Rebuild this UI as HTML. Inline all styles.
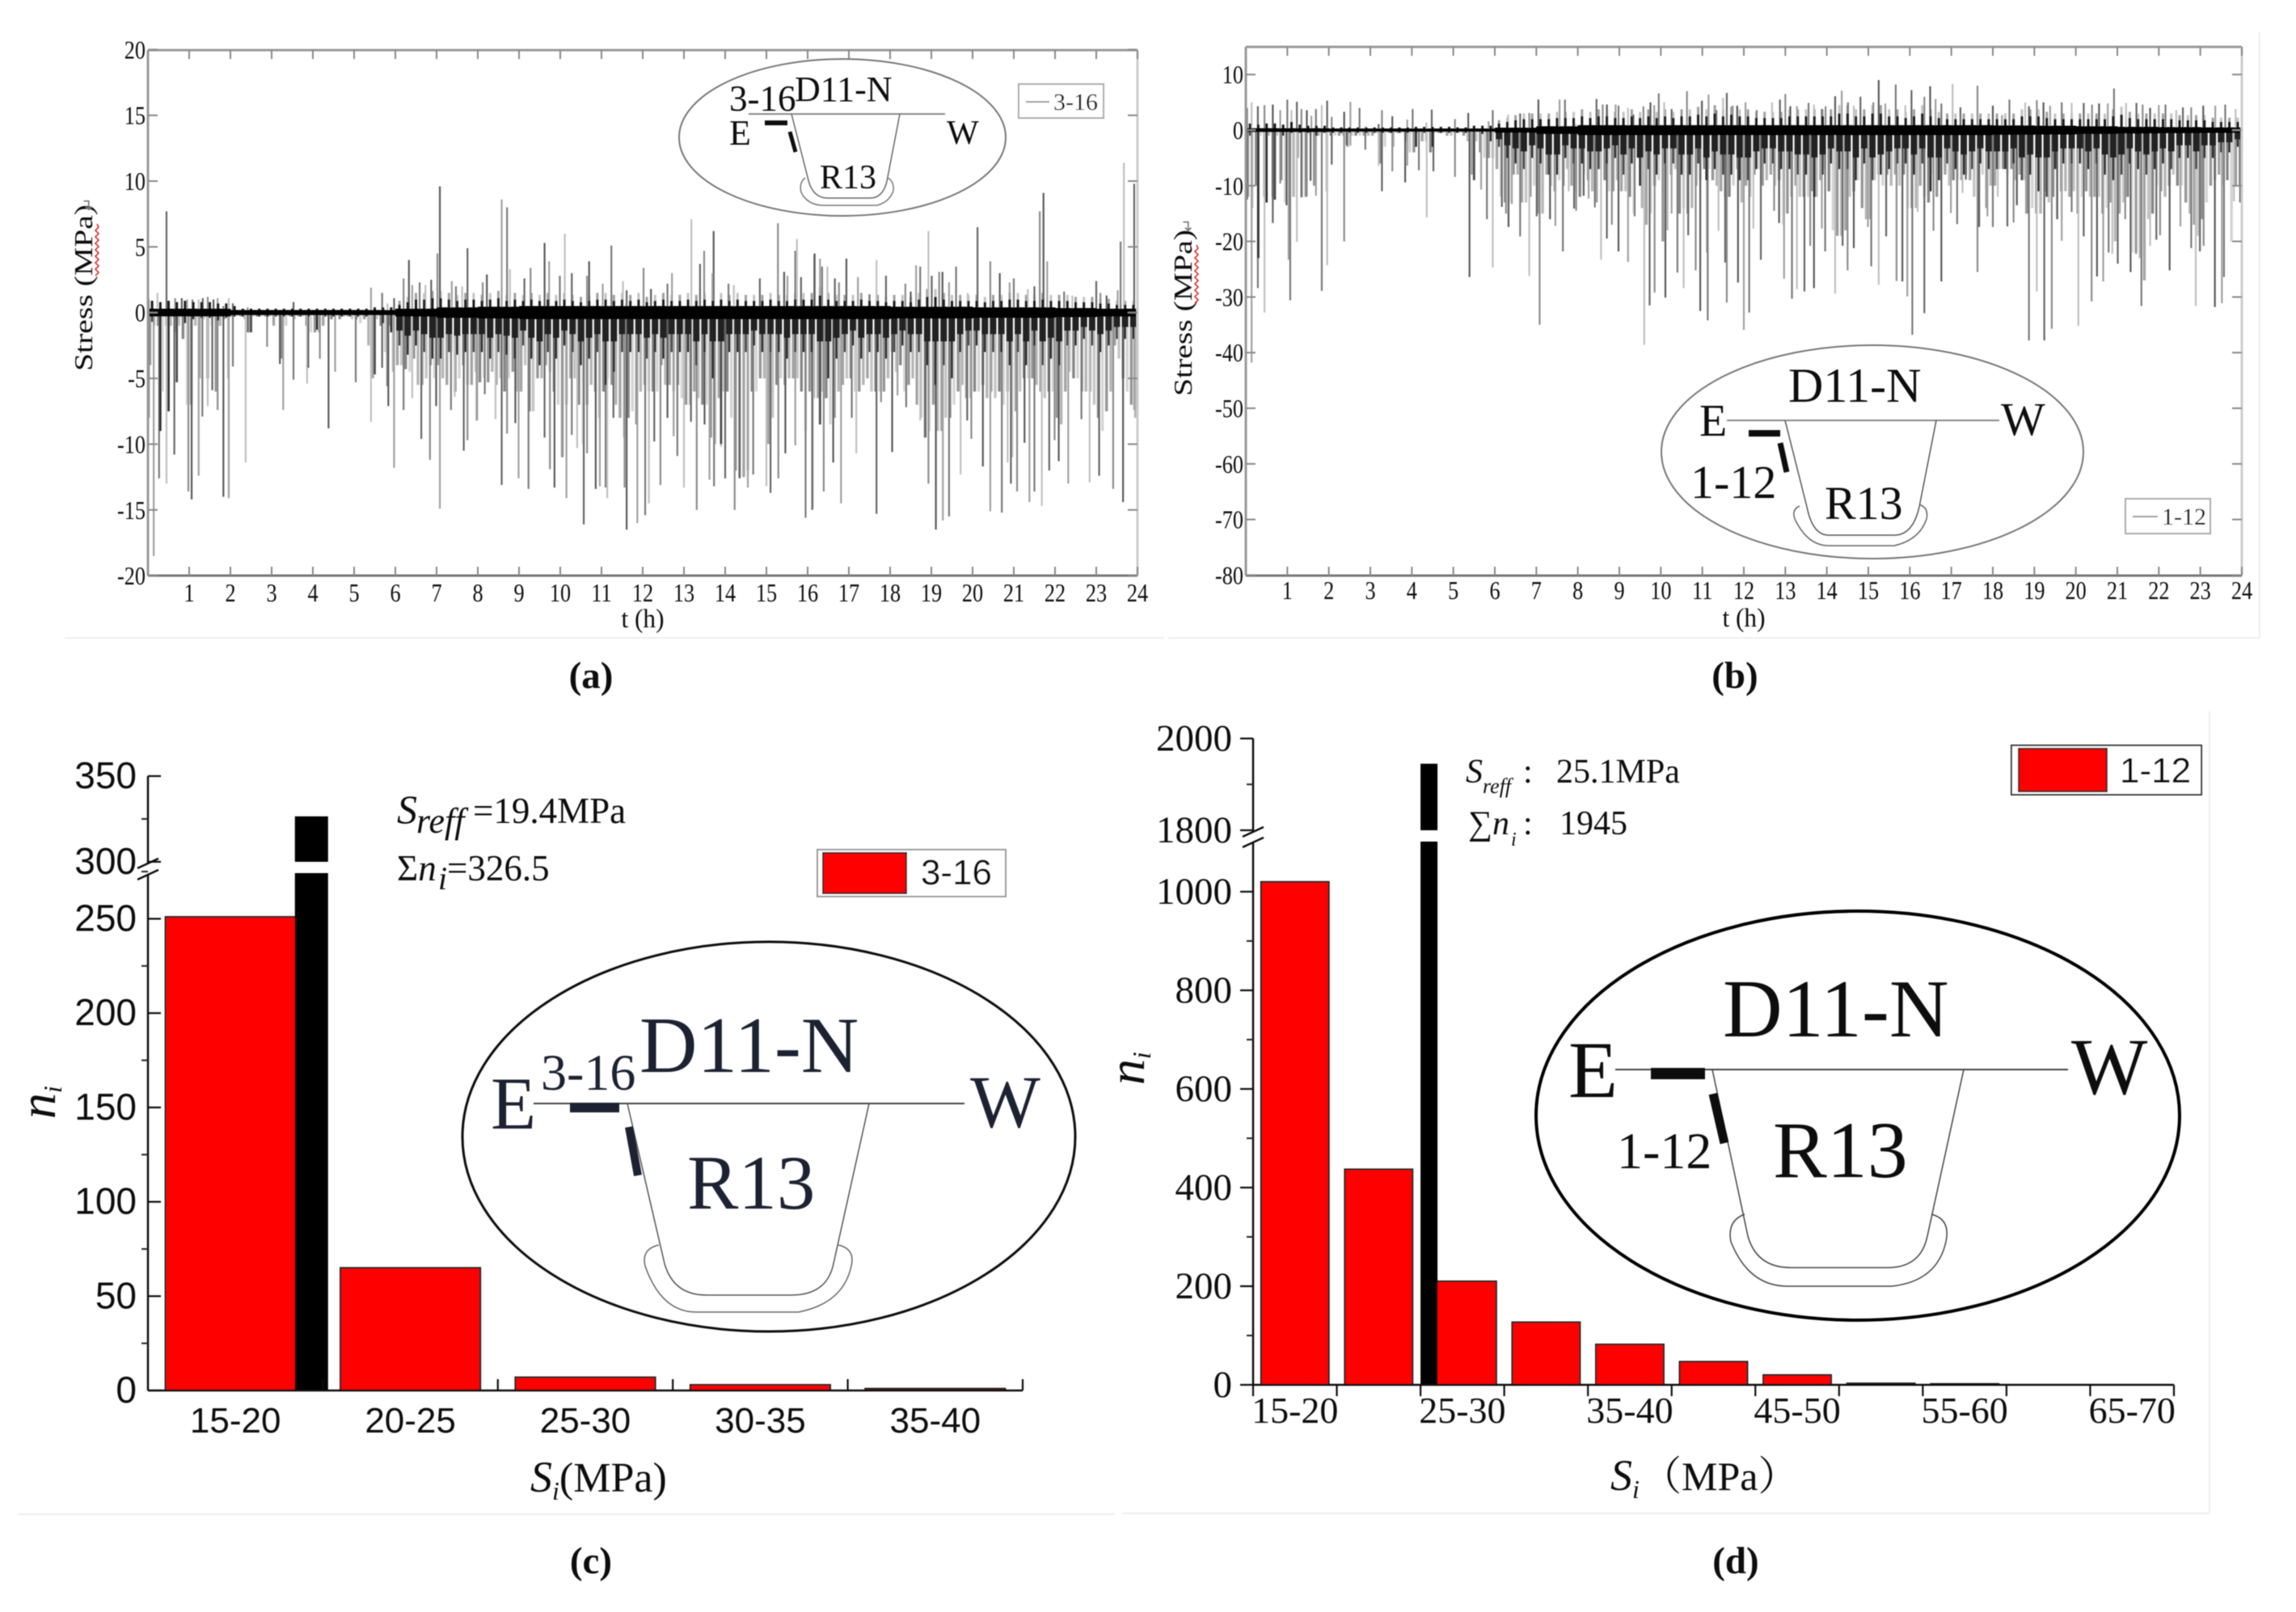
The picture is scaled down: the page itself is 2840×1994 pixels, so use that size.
<!DOCTYPE html>
<html lang="en">
<head>
<meta charset="utf-8">
<title>Stress histories and stress spectra</title>
<style>
html,body{margin:0;padding:0;background:#fff;width:2840px;height:1994px;overflow:hidden}
svg{display:block}
text{font-family:"Liberation Serif","Noto Serif CJK SC",serif;fill:#111}
.sans{font-family:"Liberation Sans",sans-serif}
</style>
</head>
<body>
<svg id="fig" xmlns="http://www.w3.org/2000/svg" width="2840" height="1994" viewBox="0 0 2840 1994">
<defs><filter id="soft" x="-2%" y="-2%" width="104%" height="104%"><feGaussianBlur stdDeviation="0.55"/></filter></defs>
<rect width="2840" height="1994" fill="#fff"/>
<g id="root" filter="url(#soft)">

<g stroke="#eeeeee" stroke-width="2" fill="none">
<line x1="80" y1="789" x2="1440" y2="789"/>
<line x1="1445" y1="789" x2="2795" y2="789"/>
<line x1="2795" y1="40" x2="2795" y2="789"/>
<line x1="22" y1="1873" x2="1378" y2="1873"/>
<line x1="1388" y1="1872" x2="2733" y2="1872"/>
<line x1="2733" y1="880" x2="2733" y2="1872"/>
</g>

<g id="panelA"></g>
<g id="panelB"></g>
<g id="panelC"></g>
<g id="panelD"></g>

<!-- inset a -->
<g transform="translate(-6,0)">
<ellipse cx="1048" cy="170" rx="202" ry="97" fill="#fff" fill-opacity="0" stroke="#777" stroke-width="2"/>
<line x1="932" y1="141" x2="1175" y2="141" stroke="#888" stroke-width="2"/>
<path d="M985 141L1005 219Q1010 245 1030 245L1082 245Q1100 245 1104 219L1119 141" fill="none" stroke="#666" stroke-width="1.5"/>
<path d="M1002 220Q994 226 997 238Q1005 254 1025 254L1091 254Q1106 250 1111 236Q1112 224 1104 220" fill="none" stroke="#777" stroke-width="1.5"/>
<line x1="952" y1="152" x2="980" y2="152" stroke="#111" stroke-width="6"/>
<line x1="983" y1="163" x2="990" y2="188" stroke="#111" stroke-width="5"/>
<text x="908" y="137" font-size="45">3-16</text>
<text x="989" y="125" font-size="44">D11-N</text>
<text x="908" y="179" font-size="44">E</text>
<text x="1177" y="178" font-size="42">W</text>
<text x="1020" y="233" font-size="42">R13</text>
</g>
<g transform="translate(-5,0)">
<rect x="1265" y="104" width="105" height="42" fill="#fff" stroke="#aaa" stroke-width="2"/>
<line x1="1274" y1="126" x2="1303" y2="126" stroke="#999" stroke-width="2"/>
<text x="1308" y="136" font-size="30">3-16</text>
</g>
<!-- inset b -->
<g transform="translate(-4,0)">
<ellipse cx="2320" cy="559" rx="261" ry="132" fill="none" stroke="#777" stroke-width="2"/>
<line x1="2140" y1="520" x2="2477" y2="520" stroke="#888" stroke-width="2"/>
<path d="M2212 520L2239 627Q2246 662 2266 662L2347 662Q2370 662 2378 627L2399 520" fill="none" stroke="#555" stroke-width="1.5"/>
<path d="M2230 626Q2220 630 2224 642Q2240 675 2266 675L2347 675Q2378 668 2387 642Q2390 628 2378 624" fill="none" stroke="#666" stroke-width="1.5"/>
<line x1="2167" y1="536" x2="2206" y2="536" stroke="#111" stroke-width="8"/>
<line x1="2206" y1="548" x2="2214" y2="584" stroke="#111" stroke-width="7"/>
<text x="2216" y="497" font-size="60">D11-N</text>
<text x="2106" y="539" font-size="56">E</text>
<text x="2479" y="538" font-size="58">W</text>
<text x="2095" y="616" font-size="58">1-12</text>
<text x="2261" y="642" font-size="58">R13</text>
</g>
<g transform="translate(-5,0)">
<rect x="2634" y="617" width="105" height="43" fill="#fff" stroke="#aaa" stroke-width="2"/>
<line x1="2643" y1="639" x2="2674" y2="639" stroke="#999" stroke-width="2"/>
<text x="2679" y="649" font-size="30">1-12</text>
</g>
<!-- inset c -->
<g transform="translate(-7,0)">
<ellipse cx="958" cy="1406" rx="379" ry="241" fill="none" stroke="#111" stroke-width="3"/>
<line x1="667" y1="1365" x2="1200" y2="1365" stroke="#444" stroke-width="2"/>
<path d="M783 1365L829 1563Q840 1602 881 1602L986 1602Q1030 1602 1038 1563L1082 1365" fill="none" stroke="#555" stroke-width="1.5"/>
<path d="M822 1540Q800 1545 805 1566Q825 1623 868 1623L995 1623Q1050 1612 1060 1566Q1065 1545 1044 1540" fill="none" stroke="#666" stroke-width="1.5"/>
<line x1="712" y1="1370" x2="773" y2="1370" stroke="#1a2433" stroke-width="12"/>
<line x1="785" y1="1394" x2="796" y2="1454" stroke="#1a2433" stroke-width="10"/>
<text x="798" y="1326" font-size="99" style="fill:#1a2433">D11-N</text>
<text x="676" y="1348" font-size="64" style="fill:#1a2433">3-16</text>
<text x="614" y="1396" font-size="92" style="fill:#1a2433">E</text>
<text x="1207" y="1394" font-size="92" style="fill:#1a2433">W</text>
<text x="857" y="1495" font-size="95" style="fill:#1a2433">R13</text>
</g>
<g>
<text x="491" y="1018" font-size="50" font-style="italic">S</text>
<text x="515" y="1030" font-size="44" font-style="italic">reff</text>
<text x="585" y="1018" font-size="45">=19.4MPa</text>
<text x="491" y="1089" font-size="45">Σ<tspan font-style="italic">n</tspan></text>
<text x="542" y="1100" font-size="40" font-style="italic">i</text>
<text x="553" y="1089" font-size="45">=326.5</text>
</g>
<g transform="translate(-7,0)">
<rect x="1018" y="1051" width="233" height="58" fill="#fff" stroke="#999" stroke-width="2"/>
<rect x="1025" y="1055" width="103" height="50" fill="#ff0000" stroke="#222" stroke-width="2"/>
<text class="sans" x="1190" y="1094" font-size="44" text-anchor="middle">3-16</text>
</g>
<text transform="translate(68,1384) rotate(-90)" font-size="64" font-style="italic">n<tspan font-size="32" dy="8">i</tspan></text>
<text x="656" y="1845" font-size="54"><tspan font-style="italic">S</tspan><tspan font-size="32" font-style="italic" dy="10">i</tspan><tspan dy="-10" font-size="52">(MPa)</tspan></text>

<!-- inset d -->
<g transform="translate(-9,0)">
<ellipse cx="2307" cy="1380" rx="398" ry="253" fill="none" stroke="#000" stroke-width="4"/>
<line x1="2007" y1="1323" x2="2567" y2="1323" stroke="#444" stroke-width="2"/>
<path d="M2127 1323L2171 1529Q2182 1568 2224 1568L2344 1568Q2385 1568 2393 1529L2438 1323" fill="none" stroke="#444" stroke-width="1.5"/>
<path d="M2167 1502Q2145 1510 2150 1536Q2172 1591 2220 1591L2349 1591Q2405 1585 2416 1536Q2422 1508 2398 1502" fill="none" stroke="#444" stroke-width="1.5"/>
<line x1="2051" y1="1328" x2="2118" y2="1328" stroke="#111" stroke-width="14"/>
<line x1="2128" y1="1353" x2="2142" y2="1414" stroke="#111" stroke-width="11"/>
<text x="2140" y="1282" font-size="102">D11-N</text>
<text x="1949" y="1357" font-size="100">E</text>
<text x="2571" y="1353" font-size="100">W</text>
<text x="2009" y="1445" font-size="64">1-12</text>
<text x="2202" y="1456" font-size="100">R13</text>
</g>
<g transform="translate(-4,0)">
<text x="1817" y="968" font-size="42" font-style="italic">S</text>
<text x="1838" y="981" font-size="26" font-style="italic">reff</text>
<text x="1888" y="968" font-size="42">:</text>
<text x="1929" y="968" font-size="42">25.1MPa</text>
<text x="1820" y="1032" font-size="42">∑<tspan font-style="italic">n</tspan></text>
<text x="1873" y="1046" font-size="24" font-style="italic">i</text>
<text x="1888" y="1032" font-size="42">:</text>
<text x="1933" y="1032" font-size="42">1945</text>
</g>
<g transform="translate(-10,0)">
<rect x="2498" y="922" width="235" height="61" fill="#fff" stroke="#333" stroke-width="2"/>
<rect x="2507" y="926" width="109" height="53" fill="#ff0000" stroke="#222" stroke-width="2"/>
<text class="sans" x="2632" y="968" font-size="44">1-12</text>
</g>
<text transform="translate(1415,1342) rotate(-90)" font-size="64" font-style="italic">n<tspan font-size="32" dy="8">i</tspan></text>
<text x="1992" y="1843" font-size="54"><tspan font-style="italic">S</tspan><tspan font-size="32" font-style="italic" dy="10">i</tspan></text>
<text x="2030" y="1843" font-size="50">（MPa）</text>

<g>
<text x="731" y="851" font-size="47" font-weight="bold" text-anchor="middle">(a)</text>
<text x="2146" y="851" font-size="47" font-weight="bold" text-anchor="middle">(b)</text>
<text x="731" y="1946" font-size="47" font-weight="bold" text-anchor="middle">(c)</text>
<text x="2147" y="1946" font-size="47" font-weight="bold" text-anchor="middle">(d)</text>
</g>
</g>
</svg>
<script>
/* ---------- data: panel (a) gauge 3-16 ---------- */
const hourTicks = [1,2,3,4,5,6,7,8,9,10,11,12,13,14,15,16,17,18,19,20,21,22,23,24];
const stressTicksA = [20,15,10,5,0,-5,-10,-15,-20];
const tailHoursA = [.02,.14,.27,.45,.64,.98,1.06,1.23,1.32,1.45,1.56,1.69,1.83,1.96,2.06,2.37,2.42,2.89,3.2,3.28,3.53,3.86,3.89,4.17,4.38,4.54,5.04,5.41,5.68,5.8,5.83,5.97,6.2,6.41,6.63,6.84,6.99,7.08,7.35,7.44,7.66,7.75,7.98,
7.97,8.17,8.43,8.58,8.71,8.91,8.99,9.23,9.33,9.62,9.75,9.86,10.15,10.28,10.41,10.57,10.65,10.86,10.96,11.1,11.14,11.29,11.56,11.61,11.87,12.06,12.15,12.28,12.43,12.6,12.75,12.84,13,13.17,13.31,13.5,13.62,13.73,13.9,14,14.23,14.35,14.55,14.68,15,15.1,15.29,15.46,15.7,15.95,16.13,
16.11,16.39,16.62,16.81,17.07,17.18,17.67,17.78,18.05,18.18,18.39,18.73,18.86,18.93,19.11,19.28,19.43,19.71,19.87,19.97,20.25,20.43,20.71,20.85,20.93,21.08,21.26,21.38,21.5,21.68,21.86,21.99,22.09,22.32,22.64,22.84,23.07,23.41,23.65,23.92];
const tailValuesA = [-8,-18.5,-12.6,-13,-10.8,-13.6,-14.2,-12.4,-7.9,-7.1,-5.9,-7.4,-14,-14.1,-4.1,-11.4,-1.5,-2.6,-3.9,-7.4,-5.1,-5.4,-4.2,-3.5,-8.8,-4.5,-5.3,-8.3,-4.2,-5.6,-7.1,-11.8,-7.4,-6.5,-9.6,-11.2,-7.1,-14.9,-7.4,-6.4,-10.5,-9.7,-8.2,
-8.2,-6.2,-8.1,-13.1,-9.2,-8.4,-12.6,-13.4,-7.5,-9.5,-11.9,-13.3,-14.1,-9.3,-10.3,-16.1,-10.7,-13.4,-13.2,-13.3,-14.1,-8,-13.3,-16.5,-16,-15.4,-14.5,-9.8,-13.1,-8,-9.4,-10.9,-13.3,-8.3,-15,-8.5,-12.7,-13.2,-10.2,-12.6,-15,-12.6,-13.3,-12.3,-13.2,-13.7,-12.6,-10.7,-10.1,-15.6,-14.9,
-15,-13.6,-11.4,-14.5,-8,-10.7,-15.3,-6.8,-10.6,-6.3,-7.2,-8.2,-9.5,-13,-16.5,-15.8,-15.5,-12.3,-8.2,-9.6,-11.7,-15.1,-15.2,-11.4,-13,-13.6,-9.9,-14.4,-13.6,-14.7,-12,-9.7,-11.3,-13,-8.1,-12.9,-12.4,-13.4,-14.4,-7.4];
const upHoursA = [.02,.23,.45,.66,.82,.95,1.08,1.23,1.33,1.45,1.59,1.69,1.83,1.96,2.06,2.42,3.53,5.41,5.68,5.81,5.97,6.2,6.33,6.41,6.59,6.73,6.87,7.02,7.08,7.37,7.47,7.62,7.75,
8.12,8.22,8.58,8.71,8.78,9.13,9.28,9.62,9.73,9.99,10.11,10.28,10.65,10.7,11.03,11.24,11.52,11.61,12.02,12.2,12.71,12.6,13.18,13.39,13.49,13.72,13.69,14.08,14.21,14.84,15.28,15.43,15.51,15.7,15.74,15.84,16.16,
16.17,16.3,16.35,16.48,16.66,16.76,16.94,17.22,17.5,17.67,17.9,18.37,18.5,18.63,18.73,18.93,19.01,19.19,19.27,19.43,19.6,19.88,20.12,20.43,20.66,20.9,21,21.34,21.5,21.63,21.72,21.81,22.22,22.42,23,23.1,23.25,23.52,23.59,23.67,23.92];
const upValuesA = [1,1.5,7.7,1.1,1.1,1,1,1,1.1,1.2,1,1.1,.5,1.1,.7,.4,.8,1.9,1.5,.7,1.1,2.6,4,2.1,2.3,2.1,2.5,4.5,9.6,2.4,2,2,4.9,
2.3,2.9,8.6,8,3.3,2.6,3.4,5.3,3.9,2.8,6,3,2.8,3.9,2.2,5.1,2.4,1.7,3.4,1.8,3,2.2,7.1,3.7,4.7,6.2,3,2.2,2.1,2.6,6.8,3.1,2.8,4.7,5.6,2.7,4.4,
4.5,4.1,3.5,3.5,2.6,2.3,4.1,2.7,1.4,4,2.8,2.2,1.6,3.6,3.5,6.2,2.8,3.1,3.1,2.3,3.5,1.5,6.5,3.9,3,2.3,2.6,1.8,2,7.7,9.1,3.9,1.6,1.3,2.4,1.5,1.3,1.7,5.4,11.4,9.8];
/* gray body depth, one value per 0.1 h */
const bodyA = [
4,1,1,6,1,1,1.5,1,2,7,
7,1,5,.5,5,1,6,1,.5,5,
.3,.3,.3,.5,1.5,.3,.3,.3,.3,.3,
1,.3,3.5,1,.3,.5,.3,.3,1,1.5,
1.5,1.5,1,.3,.5,.3,.5,.3,.3,.5,
.5,.8,.5,2.5,5,.5,1,3,1,4.5,
4,4,4.3,4.5,3.5,5.5,5.5,5,4,5,
4,5,5.5,3,6,5,4,5.5,5.5,4.5,
5.3,5,5.3,4.5,5.5,5,6,5,4.5,6,
6,4,7.5,7.5,5,5,4,4.5,6,7,
11,7,5,5,7,10,7,5.5,6,8,
6,5,5.5,7,8,9.5,8,7.5,8.5,6,
5.5,6,6,6,4,5.5,5.5,6,5.5,6.5,
7,7,6,6.5,7,7,9.5,10,6.5,6,
6,8,12,12.5,12.5,12,6,6,5,5,
10,8,5.5,5,5.5,5,5,5,6,9,
6,6.5,6.5,6,6.5,8.5,8,6,5.5,5,
5,6,6,5.5,5,6,6,6,6,5,
3,4.5,4,6,5.5,5,7,8,9.5,9,
7,9,9,8,8,7,6,5.5,6.5,6.5,
6,6,5.5,6.5,6,6.5,6,7,6,11,
7.5,6,5,5,5,5.5,6,6.5,6,6,
8,8.5,6,4.5,5,5,6,6,6,7,
8,9,7.5,6,2.5,3.5,5,6,7,8];
/* dark core depth, one value per 0.2 h */
const darkA = [
.7,9,7.5,5.3,.8, .5,.4,.4,.6,.4, .3,.3,1.5,.3,.3, .3,.3,.3,.3,.3, 1.3,.3,.3,.3,.3, .3,.3,4.7,.8,1.5,
2.5,3.2,2.5,3,3.5, 3.5,3,3.2,3,3, 3,3.5,3,3.2,3.5, 2.5,3.5,4,3,3.5, 2.5,3,4,3.5,3, 5.5,4.5,3,3,3,
3.5,3,3.5,3,3, 3,4,3,5,10, 3,3,3,2.5,3, 3,3,3.5,3,3, 3,8.5,5,3.5,3, 2.5,3.5,3,3,3.5,
3,2.5,3,3,4, 5.5,4,5,3,2.5, 2.5,3,3,3,4, 3,4,2.5,4,3.5, 4,2.5,2.5,2,2.5, 3,2.5,2,2,2];
/* upper fuzz height, one value per 0.2 h */
const fuzzA = [
.9,.8,.9,.8,.9, .8,.8,.8,.7,.7, .5,.3,.3,.3,.3, .3,.3,.3,.3,.3, .3,.3,.3,.3,.3, .3,.3,.4,.4,.4,
.6,.8,1,1,1.1, 1.1,1,.9,1,1, .9,1,1.1,.9,1, .9,1,.9,1,.9, 1,.9,.8,.9,1, 1,.9,1,.9,1,
.8,.9,1,.9,.9, 1,.9,1,.9,1, .9,1,.9,.9,.9, 1,.9,.9,1,1, 1,1.3,1,.9,.9, .9,1,.9,.9,.8,
.9,.9,.8,1,1.2, 1.2,1,.9,.9,.9, .9,.8,.9,.9,1, 1,.9,.9,1,.9, .9,.9,.8,.8,.8, .7,.7,.6,.6,.6];
/* half thickness of the black band round zero, one value per hour */
const coreA = [.3,.3,.2,.2,.2,.2,.3,.4,.45,.5,.5,.5,.5,.5,.5,.5,.5,.5,.45,.45,.4,.4,.35,.3];

/* ---------- data: panel (b) gauge 1-12 ---------- */
const stressTicksB = [10,0,-10,-20,-30,-40,-50,-60,-70,-80];
const tailHoursB = [.03,.14,.29,.45,.65,.83,.98,1.03,1.07,1.23,1.34,1.47,1.56,1.69,1.83,1.96,2.07,2.37,2.43,2.52,2.88,3.2,3.28,3.53,3.84,3.89,4.17,4.36,4.52,5.04,5.39,5.67,5.81,5.95,6.17,6.27,6.33,6.41,6.61,6.83,7.01,7.08,7.33,7.46,7.64,7.78,7.91,
7.96,8.14,8.26,8.41,8.56,8.7,8.82,8.98,9.21,9.37,9.6,9.73,9.85,10.11,10.26,10.4,10.55,10.66,10.84,10.95,11.11,11.13,11.39,11.55,11.59,11.86,12,12.13,12.23,12.41,12.73,12.85,12.97,13.16,13.28,13.46,13.6,13.69,13.88,13.96,14.2,14.38,14.5,14.65,14.99,15.07,15.25,15.43,15.68,15.82,15.94,
16.06,16.19,16.35,16.57,16.76,16.99,17.14,17.27,17.35,17.63,17.67,17.87,18,18.12,18.35,18.5,18.58,18.8,18.87,19.06,19.24,19.42,19.55,19.66,19.9,20.06,20.19,20.38,20.51,20.66,20.79,20.88,21.01,21.19,21.32,21.45,21.58,21.79,21.94,22.03,22.26,22.52,22.78,22.89,22.99,23.08,23.35,23.52,23.57,23.81,23.96];
const tailValuesB = [-12.5,-41.8,-28.4,-32.8,-16.7,-9.6,-13.5,-23.3,-30.6,-20.1,-12.1,-11.8,-9.1,-11.8,-28.9,-24.3,-6.2,-20,-2.7,-2.8,-3.5,-6.4,-11,-7.4,-9.4,-6.4,-7.2,-15.7,-7.4,-8.4,-26.4,-10.7,-16,-24.7,-13.8,-15,-17.4,-13.3,-19.1,-26.2,-15.5,-35,-16,-17.2,-21.8,-11,-14.1,
-14.5,-11.8,-12.3,-13.9,-23.3,-19.5,-17,-21.8,-23.7,-15.5,-38.6,-31.5,-29.2,-30.1,-15,-25.6,-28.4,-18.9,-25.2,-32.5,-22,-34.2,-18.1,-23.8,-31,-27.4,-35.9,-32.8,-17.7,-23.3,-14.5,-16.7,-26.7,-30.3,-28.6,-29,-20.8,-28.4,-17.7,-21.8,-29.4,-20.8,-25.2,-21.2,-17.4,-24.5,-27.8,-19.1,-27.1,-27.2,-29.9,
-36.8,-14.7,-32.9,-18.1,-27.2,-14.9,-16.9,-11.3,-8.9,-25.5,-17.4,-15.5,-17.4,-12,-17.3,-16.6,-13.5,-15,-37.8,-29,-37.8,-35.7,-16,-19.9,-14.7,-35.2,-19.1,-30.8,-26.3,-27.2,-22,-22.2,-24,-16,-25.5,-22.3,-31.6,-20.8,-19.7,-18.9,-25.2,-17.3,-21.2,-31.6,-21.8,-20.8,-31.8,-31.1,-26.4,-12.8,-13];
const upHoursB = [.03,.14,.29,.45,.65,.83,1,1.1,1.23,1.34,1.47,1.58,1.69,1.83,1.96,2.07,2.37,2.52,2.74,2.88,3.2,3.28,3.53,3.89,4.02,4.35,4.48,5.04,5.36,5.85,5.95,6.32,6.61,6.83,7.05,7.56,7.69,7.95,
8.45,8.6,8.7,8.91,8.98,9.21,9.34,9.58,9.75,9.84,9.95,10.08,10.26,10.63,10.99,11.15,11.34,11.5,11.59,11.73,11.84,12.04,12.31,12.68,12.87,13,13.12,13.28,13.56,13.69,13.88,13.97,14.2,14.36,14.51,14.65,14.81,15.12,15.25,15.41,15.66,15.89,
16.04,16.35,16.49,16.62,16.76,17.03,17.22,17.63,18,18.22,18.4,18.78,18.87,19.06,19.22,19.38,19.66,19.9,20.19,20.39,20.56,20.77,20.92,21.21,21.46,21.61,21.79,22,22.16,22.42,22.58,22.78,23.07,23.36,23.6,23.85];
const upValuesB = [4,5,4.3,4.5,4.6,3.6,5.5,3.6,5.1,3.8,3.6,2.6,3.8,4.5,5.3,2.4,3.3,5.1,4,.7,1.1,3.6,2.5,1.9,3.8,1.4,3.7,2,3.1,1.6,3.6,2.8,3,3.1,5.5,5.5,5.5,1.1,
5.6,4.6,4.6,4.6,4.4,4,2.8,4.3,5,4.5,6.6,5,3.8,7,5.3,6.4,3.6,5.8,6.7,4.4,4.4,5,3.6,5,5.5,6.5,4.3,4.3,4.9,4.6,3.8,4.3,6.1,7.1,5,4.4,6,5,9,4.8,8.2,4.5,
7.2,6,7.9,5.6,4.8,8.3,4.1,8,4.4,2.7,5.5,5,4.3,5.4,5,4.4,5,4.9,4.9,4.6,4.8,4.8,7.5,4.9,4.9,4.6,4,4.5,4.6,3.6,4.1,4.1,4.4,4.4,4.6,3.8];
const bodyB = [
12,14,10,1,12,1,12,1,9,13,
13.5,12,5,12,12,1,10,1,.5,11,
1,1,1,1,3,1,1,1,1,1,
1,.5,6,3,.5,3,.5,.5,2,4,
4,.5,2,2,4,.5,.5,.5,1,1,
.5,.5,1,2,8,2,4,5,5,5,
7,12,13,13,8,8,13,13,12,10,
15,15,8,10,11,9,10,7,10,11,
12,8,9,11,13,7,9,11,11,9,
11,11,12,15,5,14,17,15,10,9,
20,18,8,7,15,14,15,14,10,9,
7,7,9,10,11,12,12,10,7,13,
10,12,8,7,10,9,8,10,9,17,
15,12,10,12,12,12,11,12,9,7,
11,18,19,19,18,12,11,9,14,16,
16,9,8,10,8,10,8,10,8,14,
14,14,10,12,13,8,12,9,8,10,
9,9,9,8,9,12,6,8,14,10,
10,7,7,8,7,9,8,9,15,14,
15,15,11,13,12,16,11,11,12,11,
15,12,11,12,12,12,15,14,13,20,
15,13,12,22,22,23,27,16,15,10,
11,12,10,8,10,10,13,15,17,19,
16,13,10,9,8,10,9,20,10,10];
const darkB = [
1,23,13,12.5,1, .5,.5,.5,1,.5, .5,.5,.5,.5,.5, .5,.5,.5,.5,.5, 3,.5,3,.5,.5, .5,.5,9,.7,2,
3,5,6,7,5, 6,8,8,5,6, 6,7,7,6,5, 8,6,10,7,8, 6,6,8,8,6, 9,7,8,8,9,
9,7,6,6,7, 7,8,8,12,8, 6,7,7,9,6, 9,8,7,6,6, 8,6,11,9,6, 7,8,7,6,7,
7,7,6,9,8, 11,12,7,6,6, 6,7,6,8,9, 8,6,7,8,7, 6,7,5,5,7, 5,5,4,4,3];
const fuzzB = [
1.2,1,1.2,1.2,1, 1.5,1,.8,.8,.8, .5,.5,.5,.5,.5, .5,.5,.5,.5,.5, .6,.6,.6,.6,.6, .5,.5,.8,.8,.8,
1.2,1.5,1.8,2,2, 2,2,2.2,2.2,2.2, 2.5,2.2,2.5,2.5,2.2, 2.2,2.5,2.2,2.5,2.2, 2.5,2.2,2.5,2.5,2.8, 2.5,3,2.5,2.8,2.5,
2.5,2.2,2.2,2.2,2.2, 2.5,2.5,2.5,2.5,2.5, 2.5,3,3,2.5,2.5, 3,3,2.5,2.5,2.2, 2.5,3,2.5,2.2,2, 2,2,2,2,2,
2,2,2,2.5,2.5, 2.5,2.2,2,2,2, 2,2,2,2,2.5, 2.8,2.2,2,2,2, 2,2,1.8,1.8,1.8, 1.8,1.5,1.5,1.5,1.5];
const coreB = [.35,.35,.3,.3,.3,.3,.45,.7,.9,.9,.9,.9,.9,.9,.9,.9,.9,.9,.85,.8,.7,.6,.55,.5];

/* ---------- data: panel (c) ---------- */
const categoriesC = ['15-20','20-25','25-30','30-35','35-40'];
const countsC = [251,65,7,3,1];
const totalC = 326.5;
const totalSlotC = 0.84;
const lowerTicksC = [0,50,100,150,200,250];
const upperTicksC = [300,350];
const lowerMinorC = [25,75,125,175,225,275];
const upperMinorC = [325];

/* ---------- data: panel (d) ---------- */
const categoriesD = ['15-20','20-25','25-30','30-35','35-40','40-45','45-50','50-55','55-60','60-65','65-70'];
const shownLabelsD = ['15-20','','25-30','','35-40','','45-50','','55-60','','65-70'];
const countsD = [1020,437,210,127,82,47,20,3,2,0,0];
const totalD = 1945;
const totalSlotD = 2.0;
const lowerTicksD = [0,200,400,600,800,1000];
const upperTicksD = [1800,2000];
const lowerMinorD = [100,300,500,700,900];
const upperMinorD = [1900];

/* ---------- helpers ---------- */
const NS = 'http://www.w3.org/2000/svg';
function mk(tag, attrs, parent, txt) {
  const el = document.createElementNS(NS, tag);
  for (const k in attrs) el.setAttribute(k, attrs[k]);
  if (txt !== undefined) el.textContent = txt;
  parent.appendChild(el);
  return el;
}
const tailShades = ['#5a5a5a','#a0a0a0','#7a7a7a','#c0c0c0','#666666','#8c8c8c'];
const bodyShades = ['#a4a4a4','#c4c4c4','#868686','#d4d4d4','#969696','#b6b6b6'];

/* ---------- time-history panels ---------- */
function drawTime(parent, o) {
  const xOf = h => o.x0 + (o.x1 - o.x0) * h / 24;
  const yOf = v => o.zero - v * o.pxPerMPa;
  const spikes = mk('g', {}, parent);
  
  

  o.body.forEach((v, i) => {
    const xp = xOf((i + 0.5) * 0.1);
    const el = mk('line', {x1: xp, x2: xp, y1: yOf(0), y2: yOf(-v), stroke: bodyShades[i % 6], 'stroke-width': 3.4}, spikes);
    
    
  });
  o.fuzz.forEach((v, i) => {
    if (i < 30) return;
    const xp = xOf((i + 0.5) * 0.2);
    const el = mk('line', {x1: xp, x2: xp, y1: yOf(0), y2: yOf(v * 1.5), stroke: i % 2 ? '#c4c4c4' : '#a0a0a0', 'stroke-width': 3}, spikes);
    
    
  });
  const n = Math.min(o.tailH.length, o.tailV.length);
  for (let i = 0; i < n; i++) {
    const xp = xOf(o.tailH[i]);
    const el = mk('line', {x1: xp, x2: xp, y1: yOf(0), y2: yOf(o.tailV[i]), stroke: tailShades[i % 6], 'stroke-width': 2.2}, spikes);
    
    
  }
  const m = Math.min(o.upH.length, o.upV.length);
  for (let i = 0; i < m; i++) {
    const xp = xOf(o.upH[i]);
    const el = mk('line', {x1: xp, x2: xp, y1: yOf(0), y2: yOf(o.upV[i]), stroke: tailShades[(i + 2) % 6], 'stroke-width': 2.2}, spikes);
    
    
  }
  o.dark.forEach((v, i) => {
    const xp = xOf((i + 0.5) * 0.2);
    const el = mk('line', {x1: xp, x2: xp, y1: yOf(0), y2: yOf(-v), stroke: i % 3 ? '#333333' : '#4d4d4d', 'stroke-width': 2.8}, spikes);
    
    
    if (i >= 30) {
      const wide = mk('line', {x1: xp, x2: xp, y1: yOf(0), y2: yOf(-Math.min(v, o.capDark) * 0.55), stroke: '#222222', 'stroke-width': 8}, spikes);
      
      
    }
  });
  o.fuzz.forEach((v, i) => {
    const xp = xOf((i + 0.5) * 0.2);
    const el = mk('line', {x1: xp, x2: xp, y1: yOf(0), y2: yOf(v), stroke: '#1a1a1a', 'stroke-width': 3}, spikes);
    
    
  });
  o.core.forEach((v, i) => {
    const el = mk('rect', {x: xOf(i), width: xOf(1) - xOf(0) + 0.5, y: yOf(v), height: yOf(-v) - yOf(v), fill: '#000'}, spikes);
    
    
  });

  /* frame */
  const frame = [[o.x0, o.top, o.x1, o.top, '#9a9a9a', 3], [o.x0, o.bottom, o.x1, o.bottom, '#777777', 3], [o.x0, o.top, o.x0, o.bottom, '#999999', 3], [o.x1, o.top, o.x1, o.bottom, '#cccccc', 3]];
  frame.forEach(f => {
    const el = mk('line', {x1: f[0], y1: f[1], x2: f[2], y2: f[3], stroke: f[4], 'stroke-width': f[5]}, parent);
    
    
  });
  hourTicks.forEach(h => {
    const xp = xOf(h);
    [[o.bottom, o.bottom - 11], [o.top, o.top + 11]].forEach(t => {
      const el = mk('line', {x1: xp, x2: xp, y1: t[0], y2: t[1], stroke: '#888', 'stroke-width': 2}, parent);
      
      
    });
    const lab = mk('text', {transform: 'translate(' + xp + ' ' + o.xLabelY + ') scale(.82 1)', 'font-size': 32, 'text-anchor': 'middle'}, parent, String(h));
    
    
  });
  o.yTicks.forEach(v => {
    const yp = yOf(v);
    [[o.x0, o.x0 + 12], [o.x1, o.x1 - 12]].forEach(t => {
      const el = mk('line', {x1: t[0], x2: t[1], y1: yp, y2: yp, stroke: '#888', 'stroke-width': 2}, parent);
      
      
    });
    const lab = mk('text', {transform: 'translate(' + (o.x0 - 3) + ' ' + (yp + 11) + ') scale(.82 1)', 'font-size': 32, 'text-anchor': 'end'}, parent, String(v));
    
    
  });
  const xt = mk('text', {transform: 'translate(' + o.xTitleX + ' ' + o.xTitleY + ') scale(.95 1)', 'font-size': 33, 'text-anchor': 'middle'}, parent, 't (h)');
  
  
  const yt = mk('text', {transform: 'translate(' + o.yTitleX + ' ' + o.yTitleY + ') rotate(-90) scale(1.24 1)', 'font-size': 32, 'text-anchor': 'middle'}, parent, 'Stress (MPa)');
  
  
  let d = 'M' + o.waveX + ' ' + o.waveY0;
  for (let w = o.waveY0 + 4, s = 1; w <= o.waveY1; w += 4, s = -s) d += 'L' + (o.waveX + s * 2) + ' ' + w;
  const wave = mk('path', {d: d, fill: 'none', stroke: '#d22', 'stroke-width': 1.5}, parent);
  
  
  const arrow = mk('text', {transform: 'translate(' + (o.yTitleX + 2) + ' ' + (o.waveY0 - 16) + ') rotate(-90)', 'font-size': 20, style: 'fill:#777'}, parent, '↵');
  
  
}

drawTime(document.getElementById('panelA'), {
  id: 'stress-3-16', x0: 183, x1: 1407, zero: 386.7, pxPerMPa: 16.27, top: 62, bottom: 712, capDark: 4,
  tailH: tailHoursA, tailV: tailValuesA, upH: upHoursA, upV: upValuesA, body: bodyA, dark: darkA, fuzz: fuzzA, core: coreA,
  yTicks: stressTicksA, xLabelY: 744, xTitleX: 795, xTitleY: 776, yTitleX: 114, yTitleY: 356, waveX: 120, waveY0: 277, waveY1: 342
});
drawTime(document.getElementById('panelB'), {
  id: 'stress-1-12', x0: 1541, x1: 2773, zero: 161, pxPerMPa: 6.88, top: 58, bottom: 712, capDark: 9,
  tailH: tailHoursB, tailV: tailValuesB, upH: upHoursB, upV: upValuesB, body: bodyB, dark: darkB, fuzz: fuzzB, core: coreB,
  yTicks: stressTicksB, xLabelY: 741, xTitleX: 2157, xTitleY: 775, yTitleX: 1474, yTitleY: 387, waveX: 1480, waveY0: 303, waveY1: 377
});

/* ---------- histogram panels ---------- */
function drawHist(parent, o) {
  const step = (o.x1 - o.x0) / o.categories.length;
  const xOf = i => o.x0 + step * i;
  const yLow = v => o.y0 - v * o.lowScale;
  const yUp = v => o.upY - (v - o.upBase) * o.upScale;
  o.counts.forEach((v, i) => {
    if (v <= 0) return;
    const left = xOf(i) + step * (1 - o.barFrac) / 2;
    const bar = mk('rect', {x: left, y: yLow(v), width: step * o.barFrac, height: o.y0 - yLow(v), fill: '#ff0000', stroke: '#222', 'stroke-width': 2}, parent);
    
    
  });
  const bx = xOf(o.totalSlot);
  const upper = mk('rect', {x: bx, y: yUp(o.total), width: o.blackW, height: yUp(o.upBase) - yUp(o.total), fill: '#000'}, parent);
  
  
  const lower = mk('rect', {x: bx, y: o.gapBottom, width: o.blackW, height: o.y0 - o.gapBottom, fill: '#000'}, parent);
  
  

  const segs = [[o.x0, o.y0, o.x1, o.y0], [o.x0, o.y0, o.x0, o.breakLow], [o.x0, o.breakHigh, o.x0, yUp(o.upTicks[o.upTicks.length - 1])]];
  segs.forEach(s => {
    const el = mk('line', {x1: s[0], y1: s[1], x2: s[2], y2: s[3], stroke: '#111', 'stroke-width': 2.5}, parent);
    
    
  });
  [o.breakLow, o.breakHigh].forEach(by => {
    const el = mk('line', {x1: o.x0 - 13, y1: by + 6, x2: o.x0 + 13, y2: by - 6, stroke: '#111', 'stroke-width': 2.5}, parent);
    
    
  });
  const dir = o.tickDir;
  const major = o.lowTicks.map(yLow).concat(o.upTicks.map(yUp));
  const minor = o.lowMinor.map(yLow).concat(o.upMinor.map(yUp));
  major.forEach(yp => {
    const el = mk('line', {x1: o.x0, x2: o.x0 + dir * 16, y1: yp, y2: yp, stroke: '#111', 'stroke-width': 2.2}, parent);
    
    
  });
  minor.forEach(yp => {
    const el = mk('line', {x1: o.x0, x2: o.x0 - 8, y1: yp, y2: yp, stroke: '#222', 'stroke-width': 2}, parent);
    
    
  });
  o.lowTicks.map(v => [v, yLow(v)]).concat(o.upTicks.map(v => [v, yUp(v)])).forEach(t => {
    const lab = mk('text', {x: o.labelRight, y: t[1] + o.labelDy, 'font-size': o.labelSize, 'text-anchor': 'end', class: o.labelClass}, parent, String(t[0]));
    
    
  });
  for (let i = 1; i <= o.categories.length; i++) {
    const tx = xOf(i);
    const el = mk('line', {x1: tx, x2: tx, y1: o.y0, y2: o.y0 + o.xTick, stroke: '#111', 'stroke-width': 2.2}, parent);
    
    
  }
  if (o.xTick > 0) {
    const el = mk('line', {x1: o.x0, x2: o.x0, y1: o.y0, y2: o.y0 + o.xTick, stroke: '#111', 'stroke-width': 2.2}, parent);
    
    
  }
  o.labels.forEach((t, i) => {
    if (!t) return;
    const lab = mk('text', {x: xOf(i) + step / 2, y: o.xLabelY, 'font-size': o.xLabelSize, 'text-anchor': 'middle', class: o.labelClass}, parent, t);
    
    
  });
}
drawHist(document.getElementById('panelC'), {
  categories: categoriesC, counts: countsC, labels: categoriesC, total: totalC, totalSlot: totalSlotC,
  x0: 183, x1: 1265, y0: 1720, lowScale: 2.334, upY: 1066, upBase: 300, upScale: 2.12,
  barFrac: 0.8, blackW: 41, gapBottom: 1080, breakLow: 1082, breakHigh: 1068,
  lowTicks: lowerTicksC, upTicks: upperTicksC, lowMinor: lowerMinorC, upMinor: upperMinorC, tickDir: 1, xTick: -14,
  labelRight: 169, labelDy: 15, labelSize: 46, labelClass: 'sans', xLabelY: 1772, xLabelSize: 44
});
drawHist(document.getElementById('panelD'), {
  categories: categoriesD, counts: countsD, labels: shownLabelsD, total: totalD, totalSlot: totalSlotD,
  x0: 1550, x1: 2689, y0: 1713, lowScale: 0.61, upY: 1027, upBase: 1800, upScale: 0.5675,
  barFrac: 0.81, blackW: 21, gapBottom: 1041, breakLow: 1042, breakHigh: 1029,
  lowTicks: lowerTicksD, upTicks: upperTicksD, lowMinor: lowerMinorD, upMinor: upperMinorD, tickDir: -1, xTick: 14,
  labelRight: 1524, labelDy: 15, labelSize: 47, labelClass: '', xLabelY: 1760, xLabelSize: 46
});
</script>
</body>
</html>
